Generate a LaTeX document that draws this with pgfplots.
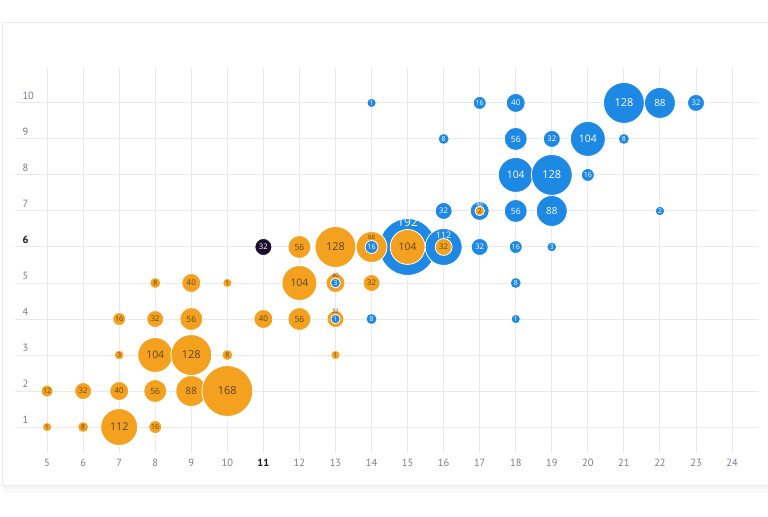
\documentclass[border=0pt]{standalone}
\usepackage{fontspec}
\setmainfont{Open Sans}
\newfontfamily\tickfont{PT Sans}
\usepackage{pgfplots}
\usepackage{pgfplotstable}
\pgfplotsset{compat=1.18}
\definecolor{borange}{HTML}{F4A11F}
\definecolor{bblue}{HTML}{1E88E5}
\definecolor{bdark}{HTML}{1B0D2E}
\definecolor{otext}{HTML}{5C4524}
\definecolor{gridc}{HTML}{E9E9ED}
\definecolor{tickc}{HTML}{7D7A8C}

\pgfplotstableread{
x y v
5 1 1
6 1 8
7 1 112
8 1 16
5 2 12
6 2 32
7 2 40
8 2 56
9 2 88
10 2 168
7 3 3
8 3 104
9 3 128
10 3 8
13 3 1
7 4 16
8 4 32
9 4 56
11 4 40
12 4 56
8 5 8
9 5 40
10 5 1
12 5 104
14 5 32
12 6 56
13 6 128
15 6 104
16 6 32
17 7 2
}\orangetab

\pgfplotstableread{
x y v dy fs
14 6 88 10 6
13 5 40 8 6
13 4 32 8 6
}\orangering

\pgfplotstableread{
x y v
13 4 1
14 4 8
13 5 3
18 4 1
18 5 8
14 6 16
17 6 32
18 6 16
19 6 3
16 7 32
18 7 56
19 7 88
22 7 2
18 8 104
19 8 128
20 8 16
16 9 8
18 9 56
19 9 32
20 9 104
21 9 8
14 10 1
17 10 16
18 10 40
21 10 128
22 10 88
23 10 32
}\bluetab

\pgfplotstableread{
x y v dy fs
15 6 192 25 12
16 6 112 12 9
17 7 40 7 6
}\bluering

\pgfplotstableread{
x y v
11 6 32
}\darktab

\newcommand{\bubLabel}{\fontsize{\bubF pt}{\bubF pt}\selectfont\pgfmathprintnumber[fixed,precision=0]{\pgfplotspointmeta}}

\begin{document}
\begin{tikzpicture}[x=1bp,y=1bp]
\path[use as bounding box] (0,0) rectangle (768,517);
\fill[black!2] (4,24) rectangle (768,32);
\fill[black!4] (3,28) rectangle (768,32);
\fill[white, draw=black!8] (2,32) rectangle (769,495);
\begin{axis}[
  at={(15bp,64bp)}, anchor=south west,
  scale only axis, width=743bp, height=385bp,
  xmin=4.11, xmax=24.72, ymin=0.28, ymax=10.97,
  axis line style={draw=none},
  major tick length=0pt,
  xtick={5,6,7,8,9,10,12,13,14,15,16,17,18,19,20,21,22,23,24},
  ytick={1,2,3,4,5,7,8,9,10},
  extra x ticks={11},
  extra y ticks={6},
  extra x tick style={grid style={draw=black!40, line width=1pt}, xticklabel style={text=bdark, font=\tickfont\bfseries\fontsize{10.5}{12}\selectfont}},
  extra y tick style={grid style={draw=black!25, line width=1pt}, yticklabel style={text=bdark, font=\tickfont\bfseries\fontsize{10.5}{12}\selectfont}},
  grid=major,
  major grid style={draw=gridc, line width=1pt},
  /pgf/number format/assume math mode=true,
  tick label style={font=\tickfont\fontsize{10.5}{12}\selectfont, text=tickc},
  yticklabel style={anchor=west, xshift=4bp, yshift=7bp},
  xticklabel style={yshift=-3bp},
  clip=false,
  bub/.style 2 args={only marks, mark=none, point meta=\thisrow{v},
    visualization depends on={2*(4.5+0.125*\thisrow{v}) \as \bubS},
    visualization depends on={min(11,5.2+0.3*(4.5+0.125*\thisrow{v})) \as \bubF},
    nodes near coords={\bubLabel},
    every node near coord/.append style={circle, anchor=center, inner sep=0pt,
      fill=#1, draw=white, line width=0.8pt, minimum size=\bubS pt, text=#2},
  },
  ringcircle/.style={only marks, mark=none, point meta=\thisrow{v},
    visualization depends on={2*(4.5+0.125*\thisrow{v}) \as \bubS},
    nodes near coords={\relax},
    every node near coord/.append style={circle, anchor=center, inner sep=0pt,
      fill=#1, draw=white, line width=0.8pt, minimum size=\bubS pt},
  },
  ringlabel/.style={only marks, mark=none, point meta=\thisrow{v},
    visualization depends on={\thisrow{dy} \as \bubD},
    visualization depends on={\thisrow{fs} \as \bubF},
    nodes near coords={\bubLabel},
    every node near coord/.append style={anchor=center, inner sep=0pt, yshift=\bubD pt, text=#1},
  },
]
% blue rings (drawn first, label at the top)
\addplot[ringcircle=bblue] table {\bluering};
\addplot[ringlabel=white] table {\bluering};
% orange bubbles
\addplot[bub={borange}{otext}] table {\orangetab};
% orange rings
\addplot[ringcircle=borange] table {\orangering};
\addplot[ringlabel=otext] table {\orangering};
% blue bubbles
\addplot[bub={bblue}{white}] table {\bluetab};
% dark bubble
\addplot[bub={bdark}{white}] table {\darktab};
\end{axis}
\end{tikzpicture}
\end{document}
